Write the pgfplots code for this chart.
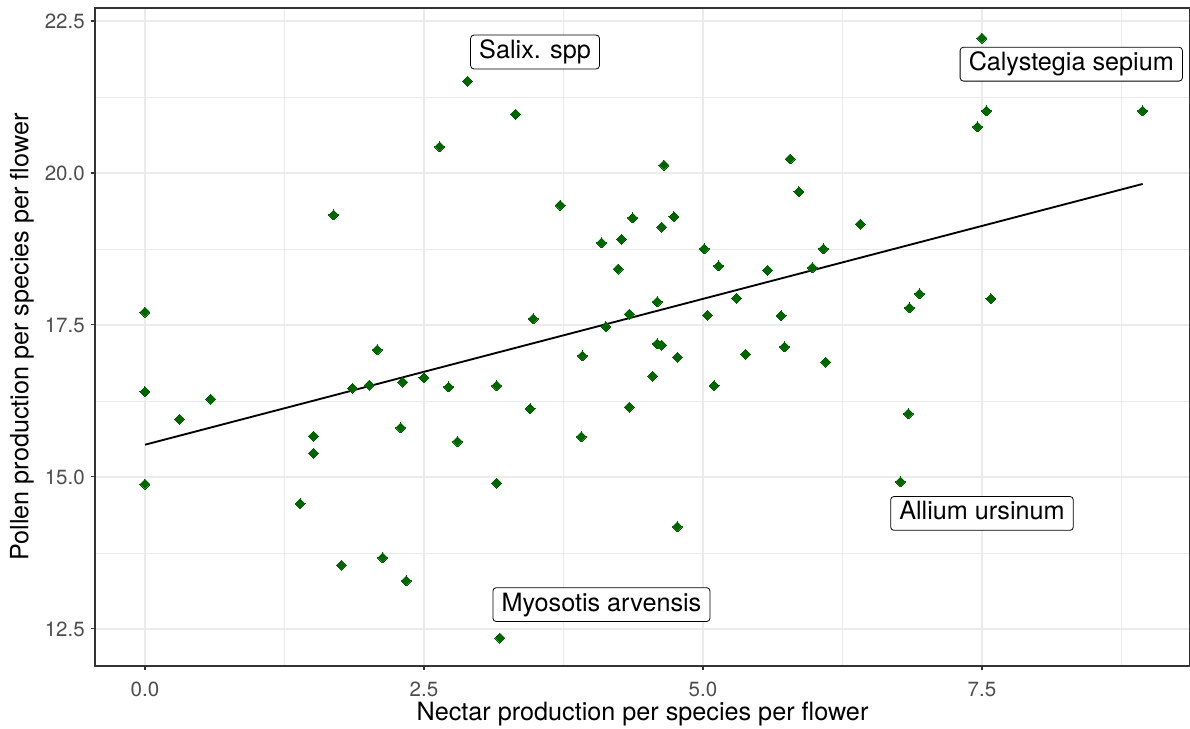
\documentclass[border=0pt]{standalone}
\usepackage{fontspec}
\setmainfont{TeX Gyre Heros}
\usepackage{pgfplots}
\pgfplotsset{compat=1.18}
\definecolor{gridc}{HTML}{EBEBEB}
\definecolor{gtwenty}{HTML}{333333}
\definecolor{gthirty}{HTML}{4D4D4D}
\definecolor{ptgreen}{HTML}{006400}
\begin{document}
\begin{tikzpicture}
\useasboundingbox (-71.25pt,-47.25pt) rectangle (821.25pt,499.5pt);
\begin{axis}[
  at={(0,0)}, anchor=south west,
  scale only axis,
  width=821.25pt, height=493.5pt,
  xmin=-0.448, xmax=9.364,
  ymin=11.89, ymax=22.714,
  xtick={0,2.5,5,7.5}, ytick={12.5,15,17.5,20,22.5},
  minor xtick={1.25,3.75,6.25,8.75},
  minor ytick={13.75,16.25,18.75,21.25},
  grid=both,
  major grid style={gridc, line width=1.2pt},
  minor grid style={gridc, line width=0.6pt},
  tick align=outside, tick pos=left,
  major tick length=3pt, minor tick length=0pt,
  every tick/.style={gtwenty, line width=0.8pt},
  axis line style={gtwenty, line width=0.8pt},
  /pgf/number format/assume math mode=true,
  /pgf/number format/.cd, fixed, fixed zerofill, precision=1, /pgfplots/.cd,
  ticklabel style={font=\fontsize{15.4pt}{17pt}\selectfont, text=gthirty, inner sep=0pt},
  xticklabel style={anchor=north},
  yticklabel style={anchor=east},
  xticklabel shift=9pt,
  yticklabel shift=4.5pt,
  label style={font=\fontsize{18.9pt}{21pt}\selectfont, text=black},
  xlabel={Nectar production per species per flower},
  ylabel={Pollen production per species per flower},
  xlabel style={at={(axis description cs:0.5,-0.0729)}, anchor=center},
  ylabel style={at={(axis description cs:-0.0667,0.5)}, anchor=center},
  clip=false,
]
\addplot[only marks, mark=square*, mark size=2.65pt, mark options={rotate=45, fill=ptgreen, draw=ptgreen, line width=0pt}] coordinates {
(0,17.71) (0,16.40) (0,14.88) (0.31,15.95) (0.59,16.28) (1.39,14.56)
(1.51,15.67) (1.51,15.39) (1.69,19.31) (1.76,13.55) (1.86,16.46) (2.01,16.51)
(2.08,17.09) (2.13,13.67) (2.29,15.81) (2.31,16.56) (2.34,13.29) (2.50,16.63)
(2.64,20.43) (2.72,16.48) (2.80,15.58) (2.89,21.51) (3.15,16.50) (3.15,14.90)
(3.18,12.35) (3.32,20.97) (3.45,16.12) (3.48,17.60) (3.72,19.47) (3.92,16.99)
(3.91,15.66) (4.09,18.85) (4.13,17.47) (4.24,18.42) (4.27,18.91) (4.34,16.15)
(4.34,17.68) (4.37,19.26) (4.55,16.66) (4.59,17.88) (4.59,17.19) (4.63,17.17)
(4.63,19.11) (4.65,20.13) (4.74,19.28) (4.77,16.97) (4.77,14.18) (5.01,18.75)
(5.04,17.66) (5.10,16.50) (5.14,18.47) (5.30,17.94) (5.38,17.02) (5.58,18.40)
(5.70,17.65) (5.73,17.14) (5.78,20.23) (5.86,19.69) (5.98,18.44) (6.08,18.75)
(6.10,16.89) (6.41,19.16) (6.77,14.92) (6.84,16.04) (6.85,17.78) (6.94,18.01)
(7.46,20.76) (7.50,22.22) (7.54,21.02) (7.58,17.93) (8.94,21.02)
};
\addplot[black, line width=1.4pt, no marks] coordinates {(0,15.53) (8.94,19.82)};
\tikzset{lab/.style={draw=black, fill=white, rounded corners=2.5pt, line width=0.6pt,
  font=\fontsize{18.9pt}{21pt}\selectfont, inner xsep=6.5pt, inner ysep=4pt,
  text height=13.6pt, text depth=3.8pt}}
\node[lab] at (axis cs:3.495,21.99) {Salix. spp};
\node[lab] at (axis cs:8.30,21.79) {Calystegia sepium};
\node[lab] at (axis cs:7.50,14.40) {Allium ursinum};
\node[lab] at (axis cs:4.09,12.90) {Myosotis arvensis};
\end{axis}
\end{tikzpicture}
\end{document}
